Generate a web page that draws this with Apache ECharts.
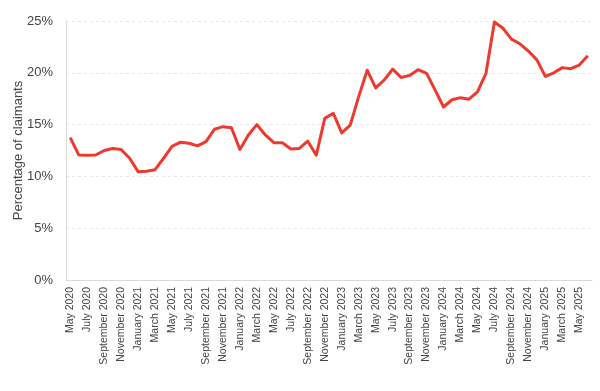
<!DOCTYPE html>
<html>
<head>
<meta charset="utf-8">
<script src="https://cdn.jsdelivr.net/npm/echarts@6/dist/echarts.min.js"></script>
<style>html,body{margin:0;padding:0;background:#fff;}#c{width:600px;height:391px;}</style>
</head>
<body>
<div id="c"></div>
<script>
var monthNames = ["January","February","March","April","May","June","July","August","September","October","November","December"];
var startYear = 2020, startMonth = 4, monthCount = 62;
var categories = [];
for (var i = 0; i < monthCount; i++) {
  var m = (startMonth + i) % 12, y = startYear + Math.floor((startMonth + i) / 12);
  categories.push(monthNames[m] + " " + y);
}
var claimantShare = [
  13.75, 12.07, 12.04, 12.07, 12.5, 12.7, 12.6, 11.75,
  10.46, 10.5, 10.65, 11.75, 12.9, 13.3, 13.2, 12.95, 13.35, 14.55, 14.8, 14.7,
  12.6, 14.0, 15.0, 14.0, 13.25, 13.25, 12.65, 12.7, 13.4, 12.04, 15.6, 16.1,
  14.2, 14.95, 17.7, 20.25, 18.55, 19.3, 20.35, 19.55, 19.75, 20.3, 19.95, 18.35,
  16.7, 17.4, 17.6, 17.45, 18.15, 19.95, 24.9, 24.3, 23.25, 22.8, 22.1, 21.25,
  19.65, 20.0, 20.5, 20.4, 20.75, 21.65
];
var yTicks = [0, 5, 10, 15, 20, 25];
var chart = echarts.init(document.getElementById('c'), null, {renderer: 'canvas'});
chart.setOption({
  animation: false,
  grid: {left: 66, right: 8, top: 21, bottom: 111, containLabel: false, outerBoundsMode: 'none'},
  textStyle: {fontFamily: 'Liberation Sans, Arial, sans-serif'},
  xAxis: {
    type: 'category',
    data: categories,
    boundaryGap: true,
    axisLine: {lineStyle: {color: '#d9d9d9', width: 1}},
    axisTick: {show: false},
    axisLabel: {rotate: 90, interval: 1, color: '#444', fontSize: 10.5, margin: 7, fontFamily: 'Liberation Sans, Arial, sans-serif'}
  },
  yAxis: {
    type: 'value',
    min: yTicks[0],
    max: yTicks[yTicks.length - 1],
    interval: 5,
    name: 'Percentage of claimants',
    nameLocation: 'middle',
    nameGap: 41,
    nameMoveOverlap: false,
    nameTextStyle: {color: '#444', fontSize: 13, fontFamily: 'Liberation Sans, Arial, sans-serif'},
    axisLine: {show: true, lineStyle: {color: '#d9d9d9', width: 1}},
    axisTick: {show: false},
    axisLabel: {formatter: '{value}%', color: '#444', fontSize: 13, margin: 13, fontFamily: 'Liberation Sans, Arial, sans-serif'},
    splitLine: {show: true, lineStyle: {color: '#e6e6e6', type: [3, 3], width: 1}}
  },
  series: [{
    type: 'line',
    data: claimantShare,
    showSymbol: false,
    symbol: 'none',
    lineStyle: {color: '#ee3a2e', width: 3, join: 'round'},
    itemStyle: {color: '#ee3a2e'}
  }]
});
</script>
</body>
</html>
